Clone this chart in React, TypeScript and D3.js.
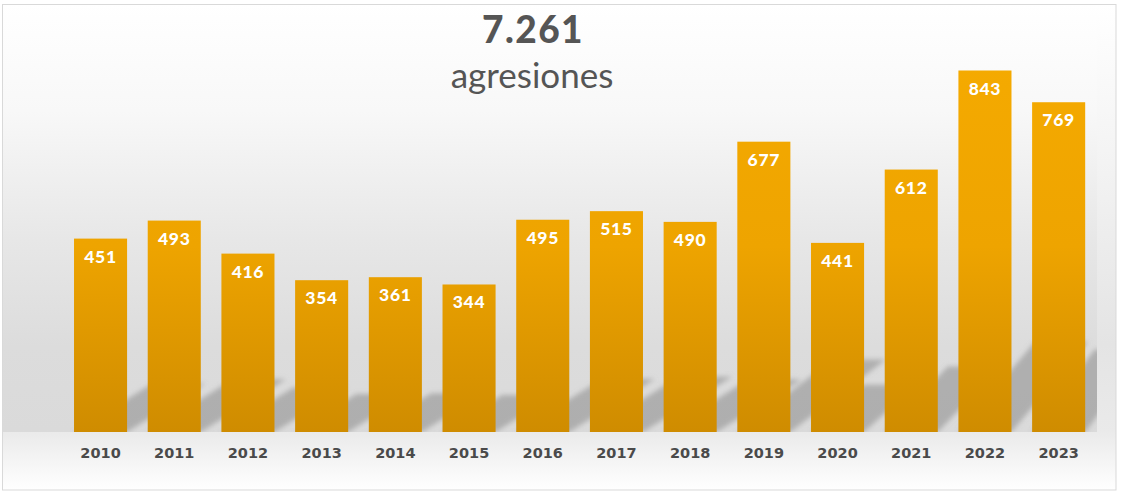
import React from "react";
import * as d3 from "d3";

const years = ["2010","2011","2012","2013","2014","2015","2016","2017","2018","2019","2020","2021","2022","2023"];
const values = [451, 493, 416, 354, 361, 344, 495, 515, 490, 677, 441, 612, 843, 769];
const totalLabel = "7.261";
const subtitle = "agresiones";

const W = 1123;
const H = 495;
const BASE = 432;
const PLOT_RIGHT = 1097;

export default function App() {
  const x = d3.scaleBand<string>().domain(years).range([63.7, 1095.5]).paddingInner(0.28).paddingOuter(0.14);
  const y = d3.scaleLinear().domain([0, 843]).range([BASE, 70.5]);
  const bw = x.bandwidth();

  const shadowPath = (i: number) => {
    const L = x(years[i])!;
    const R = L + bw;
    const h = BASE - y(values[i]);
    const k = 0.62 + 0.7 * Math.max(0, (i - 8) / 5);
    const b = 0.25;
    const a = b / k;
    const dx = h * a;
    const dy = h * b;
    return `M${L},${BASE} L${R},${BASE} L${R + dx},${BASE - dy} L${L + dx},${BASE - dy} Z`;
  };

  return (
    <svg width={W} height={H} style={{ position: "absolute", left: 0, top: 0, display: "block" }}>
      <defs>
        <linearGradient id="outerBg" x1="0" y1="4" x2="0" y2="490" gradientUnits="userSpaceOnUse">
          <stop offset="0" stopColor="#ffffff" />
          <stop offset="0.3" stopColor="#f4f4f4" />
          <stop offset="0.7" stopColor="#e4e4e4" />
          <stop offset="0.88" stopColor="#eaeaea" />
          <stop offset="1" stopColor="#ffffff" />
        </linearGradient>
        <linearGradient id="plotBg" x1="0" y1="4" x2="0" y2={BASE} gradientUnits="userSpaceOnUse">
          <stop offset="0" stopColor="#ffffff" />
          <stop offset="0.25" stopColor="#f8f8f8" />
          <stop offset="0.55" stopColor="#e7e7e7" />
          <stop offset="0.8" stopColor="#dcdcdc" />
          <stop offset="1" stopColor="#dadada" />
        </linearGradient>
        <linearGradient id="barGradAbs" x1="0" y1="60" x2="0" y2={BASE} gradientUnits="userSpaceOnUse">
          <stop offset="0" stopColor="#f5aa00" />
          <stop offset="0.5" stopColor="#eea400" />
          <stop offset="1" stopColor="#cf8c00" />
        </linearGradient>
        <clipPath id="plotClip">
          <rect x={3} y={4} width={PLOT_RIGHT - 3} height={BASE - 4} />
        </clipPath>
        <filter id="blur" x="-20%" y="-20%" width="140%" height="140%">
          <feGaussianBlur stdDeviation="2.5" />
        </filter>
      </defs>

      <rect x={2.5} y={4.5} width={1113.5} height={485.5} fill="url(#outerBg)" stroke="#d9d9d9" strokeWidth={1} />
      <rect x={3} y={5} width={PLOT_RIGHT - 3} height={BASE - 5} fill="url(#plotBg)" />

      <g clipPath="url(#plotClip)">
        <g filter="url(#blur)">
          {years.map((yr, i) => (
            <path key={yr} d={shadowPath(i)} fill="#8a8a8a" fillOpacity={0.55} />
          ))}
        </g>
      </g>

      {years.map((yr, i) => (
        <rect key={yr} x={x(yr)} y={y(values[i])} width={bw} height={BASE - y(values[i])} fill="url(#barGradAbs)" />
      ))}

      {years.map((yr, i) => (
        <text key={"v" + yr} x={x(yr)! + bw / 2} y={y(values[i]) + 24} textAnchor="middle"
          fill="#ffffff" fontFamily="Lato, 'Open Sans', sans-serif" fontWeight={900} fontSize={17.5} letterSpacing={0.7}>
          {values[i]}
        </text>
      ))}

      {years.map((yr) => (
        <text key={"y" + yr} x={x(yr)! + bw / 2} y={457.5} textAnchor="middle"
          fill="#4a4a4a" fontFamily="'DejaVu Sans', sans-serif" fontWeight={700} fontSize={14.5}>
          {yr}
        </text>
      ))}

      <text x={533} y={43} textAnchor="middle" fill="#555555" fontFamily="Lato, sans-serif" fontWeight={900} fontSize={37} letterSpacing={1.5}>
        {totalLabel}
      </text>
      <text x={532} y={88} textAnchor="middle" fill="#555555" fontFamily="Lato, sans-serif" fontWeight={400} fontSize={35}>
        {subtitle}
      </text>
    </svg>
  );
}
